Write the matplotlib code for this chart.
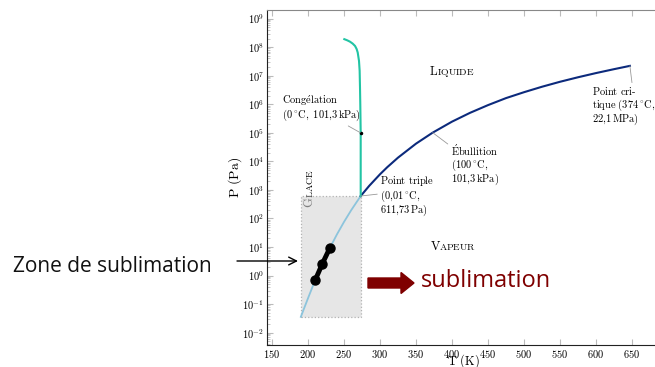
import matplotlib
matplotlib.use("Agg")
import matplotlib.pyplot as plt
import matplotlib.ticker as mticker
from matplotlib.patches import Rectangle, FancyArrow
from matplotlib.transforms import offset_copy, IdentityTransform

plt.rcParams['mathtext.fontset'] = 'cm'
plt.rcParams['font.family'] = ['cmr10', 'DejaVu Serif']
plt.rcParams['axes.formatter.use_mathtext'] = True

# sublimation curve (ice / vapour)
sub_T = [190, 200, 210, 220, 230, 240, 250, 260, 273.16]
sub_P = [0.036, 0.162, 0.70, 2.65, 8.94, 27.3, 76.0, 195.8, 611.73]

# vaporisation curve (liquid / vapour)
vap_T = [273.16, 285, 300, 310, 325, 350, 373.15, 400, 425, 450, 475, 500,
         525, 550, 575, 600, 625, 647.1]
vap_P = [611.73, 1390, 3537, 6230, 13.5e3, 41.7e3, 101325, 245.8e3, 500e3,
         932e3, 1.64e6, 2.64e6, 4.1e6, 6.12e6, 8.8e6, 12.34e6, 16.9e6, 22.06e6]

# melting curve (ice / liquid)
melt_T = [273.16, 273.15, 272.6, 272.2, 271.7, 270.8, 269.0, 267.5, 265.3,
          262.0, 258.3, 254.5, 250.4]
melt_P = [611.73, 1.013e5, 1.0e6, 3.8e6, 1.48e7, 3.3e7, 6.5e7, 8.6e7, 1.1e8,
          1.33e8, 1.55e8, 1.73e8, 1.9e8]

# highlighted points on the sublimation curve
pts_T = [210, 220, 230]
pts_P = [0.70, 2.65, 8.94]

# shaded "glace" zone
zone_T = (190, 273.16)
zone_P = (0.036, 611.73)

fig = plt.figure(figsize=(6.55, 3.67), dpi=100)
ax = fig.add_axes([267 / 655, 22 / 367, 388 / 655, 335 / 367])

ax.set_yscale('log')
ax.set_xlim(143, 682)
ax.set_ylim(10 ** -2.43, 10 ** 9.30)

ax.add_patch(Rectangle((zone_T[0], zone_P[0]), zone_T[1] - zone_T[0],
                       zone_P[1] - zone_P[0], facecolor='#d6d6d6', alpha=0.6,
                       edgecolor='#888888', linestyle=':', linewidth=0.9, zorder=2.5))

ax.plot(sub_T, sub_P, color='#8cc4dc', lw=1.3, zorder=3)
ax.plot(vap_T, vap_P, color='#0c2a7c', lw=1.5, zorder=3)
ax.plot(melt_T, melt_P, color='#22c4a4', lw=1.5, zorder=3)
ax.plot([273.15], [101325], 'o', color='k', ms=1.5, zorder=4)
ax.plot(pts_T, pts_P, '-o', color='k', lw=3.5, ms=6.5, zorder=5)

ax.set_xticks(range(150, 651, 50))
ax.set_yticks([10.0 ** k for k in range(-2, 10)])
ax.yaxis.set_minor_locator(mticker.LogLocator(base=10, subs=range(2, 10), numticks=20))
ax.yaxis.set_minor_formatter(mticker.NullFormatter())
ax.tick_params(axis='both', which='both', direction='in', color='#bbbbbb',
               labelsize=7.5, top=True, bottom=True, right=False)
ax.tick_params(axis='both', which='major', length=4, pad=2)
ax.tick_params(axis='y', which='minor', length=2.5)
ax.spines['right'].set_visible(False)
ax.spines['top'].set_color('#888888')
ax.spines['left'].set_color('#222222')
ax.spines['bottom'].set_color('#222222')

ax.set_xlabel(r'$\mathrm{T\ (K)}$', fontsize=9)
ax.xaxis.set_label_coords(0.505, -0.022)
ax.set_ylabel(r'$\mathrm{P\ (Pa)}$', fontsize=10, labelpad=-1)

fs = 7.5
ls = 0.95
line_kw = dict(arrowstyle='-', color='#999999', lw=0.6, shrinkA=0, shrinkB=0)

ax.annotate(r'$\mathrm{Cong\acute{e}lation}$' + '\n' + r'$\mathrm{(0\,^{\circ}C,\ 101{,}3\,kPa)}$',
            xy=(272.5, 101325), xytext=(163.5, 10 ** 6.36), ha='left', va='top',
            fontsize=fs, linespacing=ls, zorder=6,
            arrowprops=dict(line_kw, relpos=(0.78, 0.0)))
ax.annotate(r'$\mathrm{Point\ triple}$' + '\n' + r'$\mathrm{(0{,}01\,^{\circ}C,}$' + '\n'
            + r'$\mathrm{611{,}73\,Pa)}$',
            xy=(273.16, 611.73), xytext=(300, 611.73), ha='left', va='center',
            fontsize=fs, linespacing=ls, zorder=6,
            arrowprops=dict(line_kw, relpos=(0.0, 0.55)))
ax.annotate(r'$\mathrm{\acute{E}bullition}$' + '\n' + r'$\mathrm{(100\,^{\circ}C,}$' + '\n'
            + r'$\mathrm{101{,}3\,kPa)}$',
            xy=(373.15, 101325), xytext=(398, 10 ** 4.66), ha='left', va='top',
            fontsize=fs, linespacing=ls, zorder=6,
            arrowprops=dict(line_kw, relpos=(0.0, 0.92)))
ax.annotate(r'$\mathrm{Point\ cri}$-' + '\n' + r'$\mathrm{tique\ (374\,^{\circ}C,}$' + '\n'
            + r'$\mathrm{22{,}1\,MPa)}$',
            xy=(647.1, 22.06e6), xytext=(594, 10 ** 6.66), ha='left', va='top',
            fontsize=fs, linespacing=ls, zorder=6,
            arrowprops=dict(line_kw, relpos=(0.64, 1.0)))

# small caps region labels
ax.text(368, 10 ** 7.02, r'$\mathrm{L}$', fontsize=9, ha='left', va='baseline')
ax.text(368, 10 ** 7.02, r'$\mathrm{IQUIDE}$', fontsize=7, ha='left', va='baseline',
        transform=offset_copy(ax.transData, fig, x=5.7, units='points'))
ax.text(369, 10 ** 0.90, r'$\mathrm{V}$', fontsize=9, ha='left', va='baseline')
ax.text(369, 10 ** 0.90, r'$\mathrm{APEUR}$', fontsize=7, ha='left', va='baseline',
        transform=offset_copy(ax.transData, fig, x=6.6, units='points'))
ax.text(207, 10 ** 2.37, r'$\mathrm{G}$', fontsize=9, rotation=90,
        rotation_mode='anchor', ha='left', va='baseline', zorder=2)
ax.text(207, 10 ** 2.37, r'$\mathrm{LACE}$', fontsize=7, rotation=90,
        rotation_mode='anchor', ha='left', va='baseline', zorder=2,
        transform=offset_copy(ax.transData, fig, y=7.1, units='points'))

# overlay annotations outside the axes
fig.text(13 / 655, 1 - 266 / 367, 'Zone de sublimation', family='Open Sans',
         fontsize=15, ha='left', va='center', color='#111111')
ax.annotate('', xy=(298 / 655, 1 - 261 / 367), xytext=(237 / 655, 1 - 261 / 367),
            xycoords='figure fraction', textcoords='figure fraction',
            annotation_clip=False,
            arrowprops=dict(arrowstyle='->', color='k', lw=1.0, mutation_scale=14,
                            shrinkA=0, shrinkB=0))
fig.patches.append(FancyArrow(368, 367 - 283, 33, 0, width=10, head_width=21,
                              head_length=13, length_includes_head=False,
                              color='#7f0000', transform=IdentityTransform()))
fig.text(421 / 655, 1 - 281 / 367, 'sublimation', family='Open Sans',
         fontsize=17, ha='left', va='center', color='#7f0000')

fig.savefig('out.png', dpi=100)
